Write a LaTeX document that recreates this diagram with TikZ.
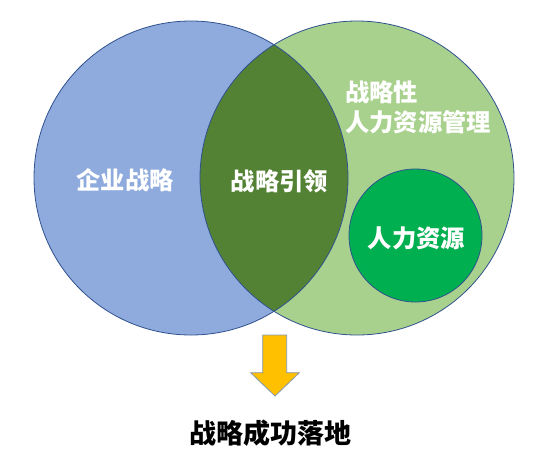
\documentclass[tikz,border=0pt]{standalone}
\usepackage{fontspec}
\newfontfamily\cjk{Noto Sans CJK SC}
\definecolor{cblue}{HTML}{8FAADC}
\definecolor{cgreen}{HTML}{A9D18E}
\definecolor{clens}{HTML}{548235}
\definecolor{csmall}{HTML}{00B050}
\definecolor{cline}{HTML}{2F528F}
\definecolor{carrow}{HTML}{FFC000}
\definecolor{carrowline}{HTML}{8497B0}
\tikzset{
  bigcircle/.style={circle, minimum size=314pt, inner sep=0pt},
  outline/.style={draw=cline, line width=0.8pt},
  wlabel/.style={text=white, font=\cjk\bfseries\fontsize{24.3}{30}\selectfont, inner sep=0pt},
  blabel/.style={text=black, font=\cjk\bfseries\fontsize{27}{32}\selectfont, inner sep=0pt}
}
\begin{document}
\begin{tikzpicture}[x=1pt,y=-1pt]
\useasboundingbox (0,0) rectangle (546,459);
% circles
\node[bigcircle, fill=cblue] (L) at (191,178) {};
\node[bigcircle, fill=cgreen] (R) at (357,178) {};
\begin{scope}
  \clip (L.center) circle (157);
  \fill[clens] (R.center) circle (157);
\end{scope}
\draw[outline] (L.center) circle (157);
\draw[outline] (R.center) circle (157);
\node[circle, minimum size=133pt, inner sep=0pt, fill=csmall, outline] (S) at (415.5,235.5) {};
% labels
\node[wlabel] (t1) at (125,180) {企业战略};
\node[wlabel] (t2) at (279.5,181) {战略引领};
\node[wlabel, anchor=west] (t3) at (345,92) {战略性};
\node[wlabel, anchor=west] (t4) at (345,122) {人力资源管理};
\node[wlabel] (t5) at (416.5,238) {人力资源};
% arrow
\coordinate (a1) at (262.7,335);
\coordinate (a2) at (286.7,335);
\coordinate (a3) at (286.7,372.7);
\coordinate (a4) at (299.3,372.7);
\coordinate (tip) at (275,396);
\coordinate (a6) at (250.7,372.7);
\coordinate (a7) at (262.7,372.7);
\draw[fill=carrow, draw=carrowline, line width=0.8pt, line join=miter]
  (a1) -- (a2) -- (a3) -- (a4) -- (tip) -- (a6) -- (a7) -- cycle;
\node[blabel] (goal) at (270.5,433) {战略成功落地};
\end{tikzpicture}
\end{document}
